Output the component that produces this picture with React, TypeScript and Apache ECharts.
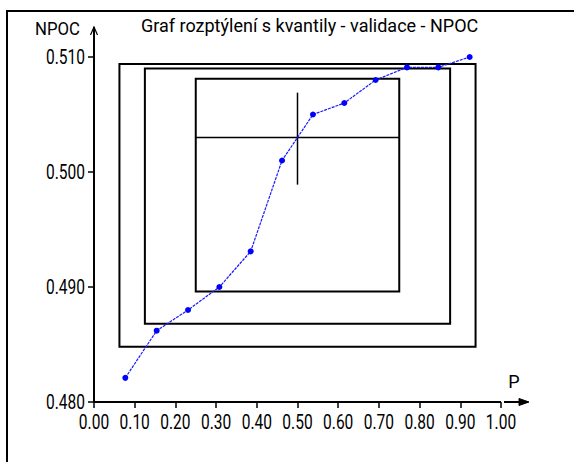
import React, { useEffect, useRef } from "react";
import * as echarts from "echarts";

const titleText = "Graf rozptýlení s kvantily - validace - NPOC";
const yName = "NPOC";
const xName = "P";

// empirical plotting positions (P) and sorted NPOC values
const pValues = [0.077, 0.154, 0.231, 0.308, 0.385, 0.462, 0.538, 0.615, 0.692, 0.769, 0.846, 0.923];
const npocValues = [0.4821, 0.4862, 0.488, 0.490, 0.4931, 0.501, 0.505, 0.506, 0.508, 0.5091, 0.5091, 0.510];

// quantile boxes: [P low, P high, value low, value high]
const boxPLow = [0.0625, 0.125, 0.25];
const boxPHigh = [0.9375, 0.875, 0.75];
const boxYLow = [0.4848, 0.4868, 0.4896];
const boxYHigh = [0.5094, 0.5090, 0.5081];

// median cross
const medianP = 0.5;
const medianValue = 0.503;
const medianLow = 0.4989;
const medianHigh = 0.5069;

// axis ticks and their labels
const xTickValues = [0, 0.1, 0.2, 0.3, 0.4, 0.5, 0.6, 0.7, 0.8, 0.9, 1.0];
const xTickLabels = ["0.00", "0.10", "0.20", "0.30", "0.40", "0.50", "0.60", "0.70", "0.80", "0.90", "1.00"];
const yTickValues = [0.48, 0.49, 0.5, 0.51];
const yTickLabels = ["0.480", "0.490", "0.500", "0.510"];

const FONT = "Roboto, 'Liberation Sans', sans-serif";
const LABEL_SIZE = 21;
const LABEL_SCALE = 0.74;

export default function App() {
  const ref = useRef<HTMLDivElement>(null);
  useEffect(() => {
    if (!ref.current) return;
    const chart = echarts.init(ref.current, null, { renderer: "svg" });
    const boxData = boxPLow.map((p, i) => [p, boxPHigh[i], boxYLow[i], boxYHigh[i]]);
    const xMin = xTickValues[0];
    const xMax = xTickValues[xTickValues.length - 1];
    const yMin = yTickValues[0];
    const yMax = yTickValues[yTickValues.length - 1];
    chart.setOption({
      animation: false,
      backgroundColor: "#ffffff",
      title: {
        text: titleText,
        left: 136,
        top: 11,
        textStyle: { fontFamily: FONT, fontSize: 18, fontWeight: "normal", color: "#000" },
      },
      grid: { left: 94, right: 73, top: 57, bottom: 60 },
      xAxis: {
        type: "value",
        min: xMin,
        max: xMax,
        interval: 0.1,
        axisLine: { show: false },
        axisTick: { show: true, length: 6, lineStyle: { color: "#000", width: 1.5 } },
        axisLabel: { show: false },
        splitLine: { show: false },
      },
      yAxis: {
        type: "value",
        min: yMin,
        max: yMax,
        interval: 0.01,
        axisLine: { show: false },
        axisTick: { show: true, length: 6, lineStyle: { color: "#000", width: 1.5 } },
        axisLabel: { show: false },
        splitLine: { show: false },
      },
      series: [
        {
          type: "custom",
          name: "boxes",
          data: boxData,
          encode: { x: [0, 1], y: [2, 3] },
          renderItem: (params: any, api: any) => {
            const p1 = api.coord([api.value(0), api.value(3)]);
            const p2 = api.coord([api.value(1), api.value(2)]);
            return {
              type: "rect",
              shape: { x: p1[0], y: p1[1], width: p2[0] - p1[0], height: p2[1] - p1[1] },
              style: { fill: "none", stroke: "#000", lineWidth: 2 },
            };
          },
          z: 1,
        },
        {
          type: "custom",
          name: "median",
          data: [[medianP, medianValue, medianLow, medianHigh, boxPLow[2], boxPHigh[2]]],
          encode: { x: [0], y: [1, 2, 3] },
          renderItem: (params: any, api: any) => {
            const hl = api.coord([api.value(4), api.value(1)]);
            const hr = api.coord([api.value(5), api.value(1)]);
            const vt = api.coord([api.value(0), api.value(3)]);
            const vb = api.coord([api.value(0), api.value(2)]);
            return {
              type: "group",
              children: [
                { type: "line", shape: { x1: hl[0], y1: hl[1], x2: hr[0], y2: hr[1] }, style: { stroke: "#000", lineWidth: 1.5 } },
                { type: "line", shape: { x1: vt[0], y1: vt[1], x2: vb[0], y2: vb[1] }, style: { stroke: "#000", lineWidth: 1.5 } },
              ],
            };
          },
          z: 2,
        },
        {
          type: "line",
          name: "NPOC",
          data: pValues.map((p, i) => [p, npocValues[i]]),
          symbol: "circle",
          symbolSize: 6,
          lineStyle: { color: "#1a1aff", width: 1.2, type: [3, 1] },
          itemStyle: { color: "#0000ff" },
          z: 3,
        },
      ],
    });

    const px = (x: number, y: number) => chart.convertToPixel({ gridIndex: 0 }, [x, y]) as number[];
    const o = px(xMin, yMin);
    const xe = px(xMax, yMin);
    const yt = px(xMin, yMax);
    const yTop = yt[1] - 30;
    const xEnd = xe[0] + 27;

    const xLabelEls = xTickValues.map((v, i) => {
      const p = px(v, yMin);
      return {
        type: "text",
        x: p[0],
        y: p[1] + 20,
        scaleX: LABEL_SCALE,
        style: { text: xTickLabels[i], font: `${LABEL_SIZE}px ${FONT}`, fill: "#000", align: "center", verticalAlign: "middle" },
        z: 10,
      };
    });
    const yLabelEls = yTickValues.map((v, i) => {
      const p = px(xMin, v);
      return {
        type: "text",
        x: p[0] - 9,
        y: p[1],
        scaleX: LABEL_SCALE,
        style: { text: yTickLabels[i], font: `${LABEL_SIZE}px ${FONT}`, fill: "#000", align: "right", verticalAlign: "middle" },
        z: 10,
      };
    });

    chart.setOption({
      graphic: [
        { type: "rect", shape: { x: 7, y: 11, width: 700, height: 700 }, style: { fill: "none", stroke: "#000", lineWidth: 2 }, z: 0 },
        { type: "line", shape: { x1: o[0], y1: o[1], x2: o[0], y2: yTop }, style: { stroke: "#000", lineWidth: 2 }, z: 10 },
        { type: "polyline", shape: { points: [[o[0] - 3.5, yTop + 8], [o[0], yTop], [o[0] + 3.5, yTop + 8]] }, style: { stroke: "#000", fill: "none", lineWidth: 1.2 }, z: 10 },
        { type: "line", shape: { x1: o[0], y1: o[1], x2: xe[0], y2: o[1] }, style: { stroke: "#000", lineWidth: 2 }, z: 10 },
        { type: "line", shape: { x1: xe[0] + 3, y1: o[1], x2: xEnd, y2: o[1] }, style: { stroke: "#000", lineWidth: 2 }, z: 10 },
        { type: "polygon", shape: { points: [[xEnd - 9, o[1] - 3.5], [xEnd + 1, o[1]], [xEnd - 9, o[1] + 3.5]] }, style: { stroke: "#000", fill: "#000", lineWidth: 1 }, z: 10 },
        {
          type: "text",
          x: o[0] - 14,
          y: yTop + 2,
          scaleX: 0.93,
          style: { text: yName, font: `18px ${FONT}`, fill: "#000", align: "right", verticalAlign: "middle" },
          z: 10,
        },
        {
          type: "text",
          x: xe[0] + 13,
          y: o[1] - 21,
          style: { text: xName, font: `18px ${FONT}`, fill: "#000", align: "center", verticalAlign: "middle" },
          z: 10,
        },
        ...xLabelEls,
        ...yLabelEls,
      ],
    });
    return () => chart.dispose();
  }, []);
  return <div ref={ref} style={{ position: "absolute", left: 0, top: 0, width: 574, height: 462 }} />;
}
